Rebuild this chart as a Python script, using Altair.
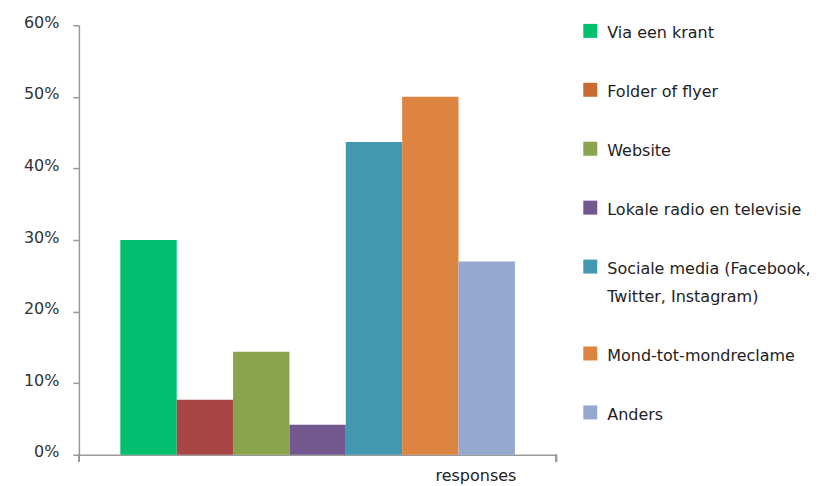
import altair as alt
import pandas as pd

categories = [
    "Via een krant",
    "Folder of flyer",
    "Website",
    "Lokale radio en televisie",
    "Sociale media (Facebook, Twitter, Instagram)",
    "Mond-tot-mondreclame",
    "Anders",
]
values = [0.30, 0.077, 0.144, 0.042, 0.437, 0.50, 0.27]
bar_colors = ["#00BF6F", "#A84646", "#8AA44E", "#72588F", "#4298B0", "#DC8440", "#95A9D0"]
legend_colors = ["#00BF6F", "#C96A30", "#8AA44E", "#72588F", "#4298B0", "#DC8440", "#95A9D0"]
group_label = "responses"
y_ticks = [0, 0.1, 0.2, 0.3, 0.4, 0.5, 0.6]

FONT = "DejaVu Sans"

df = pd.DataFrame({
    "category": categories,
    "value": values,
    "barcolor": bar_colors,
    "group": [group_label] * len(categories),
})

x_enc = alt.X(
    "group:N",
    scale=alt.Scale(paddingInner=0, paddingOuter=0.105),
    axis=alt.Axis(
        title=group_label, labels=False, ticks=False,
        domainColor="#999999", domainWidth=1.5,
        titleX=397, titleY=21, titleAlign="center", titleBaseline="middle",
        titleFont=FONT, titleFontSize=16, titleFontWeight="normal", titleColor="#222222",
    ),
)
y_enc = alt.Y(
    "value:Q",
    scale=alt.Scale(domain=[0, 0.6], nice=False),
    axis=alt.Axis(
        title=None, values=y_ticks, format=".0%", grid=False,
        domainColor="#999999", domainWidth=1.5,
        tickColor="#999999", tickWidth=1.5, tickSize=6,
        labelPadding=14, labelFont=FONT, labelFontSize=16, labelColor="#333333",
        labelOffset=-3, labelBaseline="middle",
    ),
)

bars = alt.Chart(df).mark_bar().encode(
    x=x_enc,
    xOffset=alt.XOffset("category:N", sort=categories,
                        scale=alt.Scale(paddingInner=0, paddingOuter=0)),
    y=y_enc,
    fill=alt.Fill("barcolor:N", scale=None),
)

legend_layer = alt.Chart(df).mark_square(size=0, filled=True).encode(
    x=alt.X("group:N"),
    y=alt.Y("value:Q"),
    color=alt.Color(
        "category:N", sort=categories,
        scale=alt.Scale(domain=categories, range=legend_colors),
        legend=alt.Legend(
            title=None, orient="none", legendX=504, legendY=-8,
            symbolType="M-1,-0.2H1V1.8H-1Z", symbolSize=196, symbolOpacity=1,
            symbolStrokeWidth=0,
            labelFont=FONT, labelFontSize=16, labelColor="#222222", labelOffset=9,
            labelLimit=300, rowPadding=35, labelBaseline="top",
            labelExpr="datum.label == 'Sociale media (Facebook, Twitter, Instagram)' ? ['Sociale media (Facebook,', 'Twitter, Instagram)'] : datum.label",
        ),
    ),
)

end_ticks = alt.Chart(df).mark_rule(color="#999999", strokeWidth=1.5).encode(
    x=alt.value(0), y=alt.value(430), y2=alt.value(437)
) + alt.Chart(df).mark_rule(color="#999999", strokeWidth=1.5).encode(
    x=alt.value(478), y=alt.value(430), y2=alt.value(437)
)

chart = alt.layer(bars, legend_layer, end_ticks).properties(
    width=478, height=430,
    autosize=alt.AutoSizeParams(type="none"),
    padding={"left": 71, "top": 17, "right": 260, "bottom": 31},
).configure(
    style={"guide-label": {"lineHeight": 28}}
).configure_view(stroke=None)

chart.save("out.html", embed_options={"renderer": "svg", "actions": False})
